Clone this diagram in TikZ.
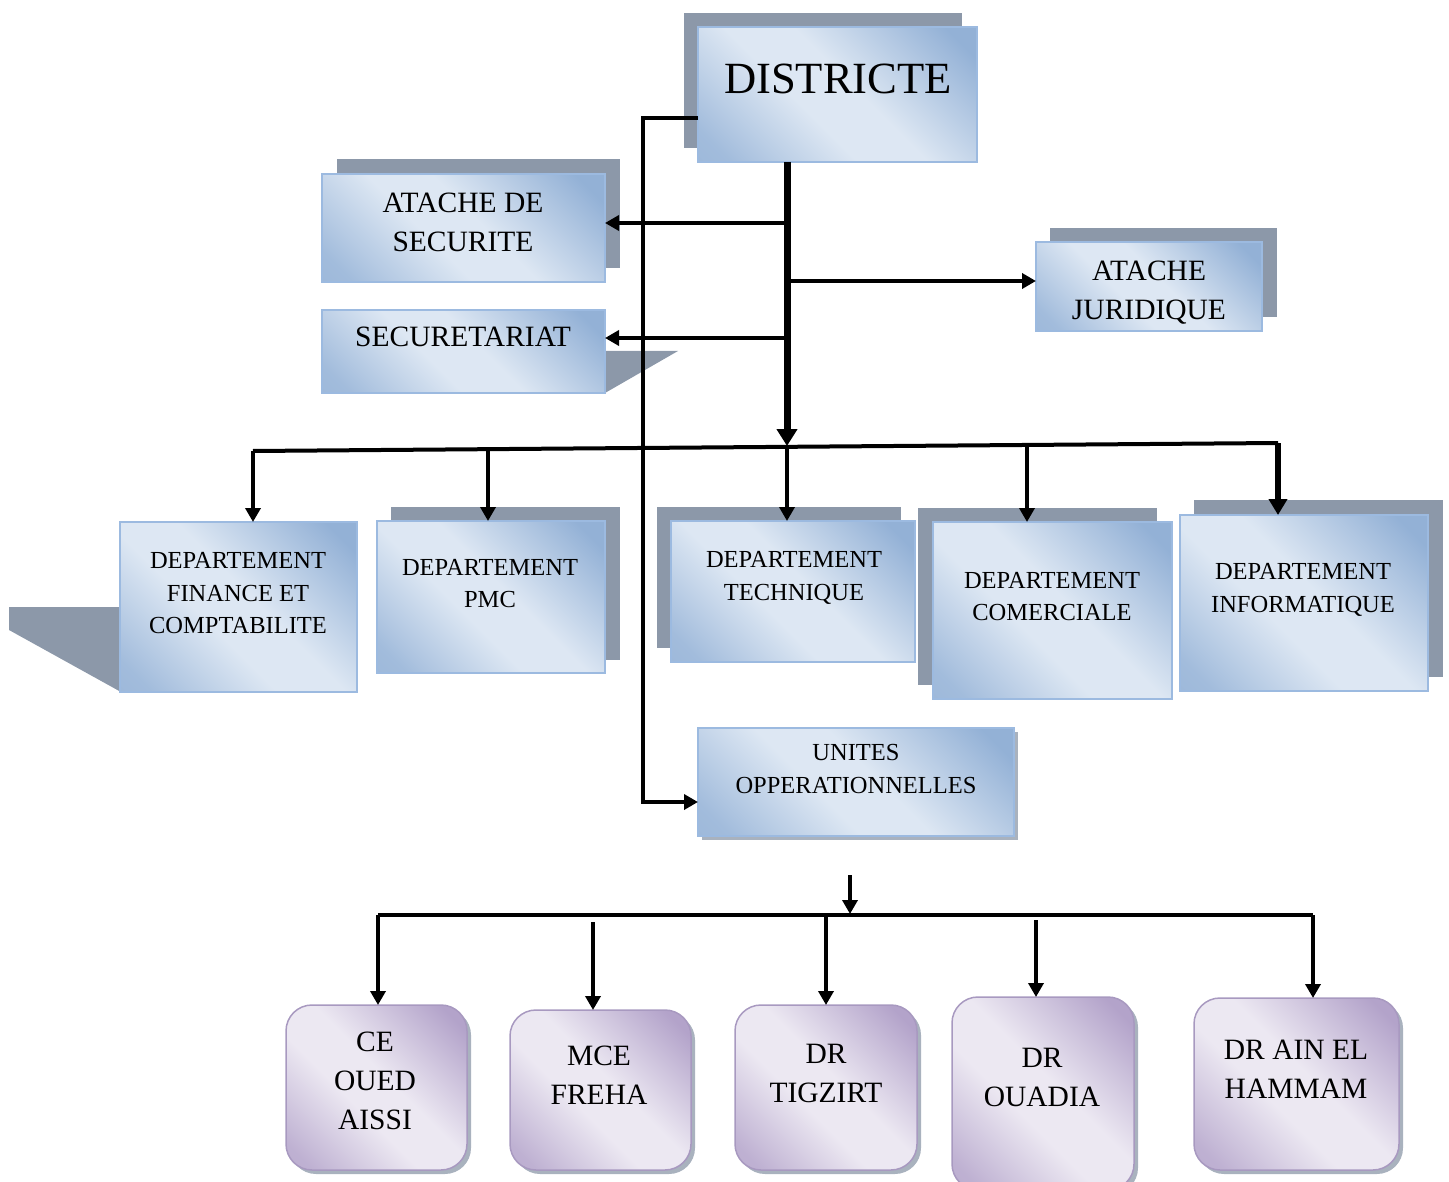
\documentclass[tikz,border=0pt]{standalone}
\usepackage{fontspec}
\setmainfont{Liberation Serif}
\usetikzlibrary{arrows.meta}
\definecolor{blight}{HTML}{DDE7F3}
\definecolor{bdark}{HTML}{93B1D6}
\definecolor{bedge}{HTML}{9CBAE0}
\definecolor{shgray}{HTML}{8C98A9}
\definecolor{plight}{HTML}{ECE8F2}
\definecolor{pdark}{HTML}{B3A3CA}
\definecolor{pedge}{HTML}{A899C0}
\pgfdeclarehorizontalshading{bluegrad}{100bp}{color(0bp)=(bdark); color(20bp)=(bdark!80!blight); color(42bp)=(blight); color(54bp)=(blight); color(80bp)=(bdark); color(100bp)=(bdark)}
\pgfdeclarehorizontalshading{purplegrad}{100bp}{color(0bp)=(pdark); color(20bp)=(pdark!80!plight); color(42bp)=(plight); color(54bp)=(plight); color(80bp)=(pdark); color(100bp)=(pdark)}
\newcommand\BoxAt[6]{\node[#1, minimum width={(#5)-(#3)}, minimum height={(#6)-(#4)}] (#2) at ({((#3)+(#5))/2},{((#4)+(#6))/2}) {};}
\newcommand\PShadow[4]{\fill[shgray!75, rounded corners=26pt] ({(#1)+4},{(#2)+4}) rectangle ({(#3)+4},{(#4)+4});}
\begin{document}
\begin{tikzpicture}[x=1pt,y=-1pt,
  bluebox/.style={draw=bedge, line width=1.5pt, shading=bluegrad, shading angle=45, inner sep=0pt, outer sep=0pt},
  purplebox/.style={draw=pedge, line width=1.5pt, shading=purplegrad, shading angle=45, rounded corners=26pt, inner sep=0pt, outer sep=0pt},
  lbl/.style={align=center, inner sep=0pt, text=black},
  big/.style={lbl, font=\fontsize{44.6}{50}\selectfont},
  mid/.style={lbl, font=\fontsize{29.5}{39}\selectfont},
  sml/.style={lbl, font=\fontsize{24.5}{32.5}\selectfont},
  conn/.style={line width=4pt},
  arr/.style={conn, -{Triangle[width=15pt,length=14pt]}}]
\useasboundingbox (0,0) rectangle (1449,1182);
% shadows
\fill[shgray] (684,13) rectangle (962,148);
\fill[shgray] (337,159) rectangle (620,268);
\fill[shgray] (605,351) -- (678,351) -- (605,393) -- cycle;
\fill[shgray] (1050,228) rectangle (1277,317);
\fill[shgray] (9,607) -- (121,607) -- (121,692) -- (9,630) -- cycle;
\fill[shgray] (391,507) rectangle (620,660);
\fill[shgray] (657,507) rectangle (901,648);
\fill[shgray] (918,508) rectangle (1157,685);
\fill[shgray] (1194,500) rectangle (1443,677);
\fill[shgray!75] (702,732) rectangle (1018,840);
\PShadow{286}{1005}{467}{1170}
\PShadow{510}{1010}{691}{1170}
\PShadow{735}{1005}{917}{1170}
\PShadow{952}{997}{1134}{1190}
\PShadow{1194}{998}{1399}{1170}
% boxes
\BoxAt{bluebox}{dist}{698}{27}{977}{162}
\BoxAt{bluebox}{secu}{322}{174}{605}{282}
\BoxAt{bluebox}{secr}{322}{310}{605}{393}
\BoxAt{bluebox}{juri}{1036}{242}{1262}{331}
\BoxAt{bluebox}{fin}{120}{522}{357}{692}
\BoxAt{bluebox}{pmc}{377}{521}{605}{673}
\BoxAt{bluebox}{tech}{671}{521}{915}{662}
\BoxAt{bluebox}{com}{933}{522}{1172}{699}
\BoxAt{bluebox}{info}{1180}{515}{1428}{691}
\BoxAt{bluebox}{unit}{698}{728}{1014}{836}
\BoxAt{purplebox}{ce}{286}{1005}{467}{1170}
\BoxAt{purplebox}{mce}{510}{1010}{691}{1170}
\BoxAt{purplebox}{tig}{735}{1005}{917}{1170}
\BoxAt{purplebox}{oua}{952}{997}{1134}{1190}
\BoxAt{purplebox}{ain}{1194}{998}{1399}{1170}
% labels
\node[big] (tdist) at (838,79) {DISTRICTE};
\node[mid] (tsecu) at (463,222.5) {ATACHE DE\\SECURITE};
\node[mid] (tsecr) at (463,337) {SECURETARIAT};
\node[mid] (tjuri) at (1149,292.5) {ATACHE\\JURIDIQUE};
\node[sml] (tfin) at (238,593.5) {DEPARTEMENT\\FINANCE ET\\COMPTABILITE};
\node[sml] (tpmc) at (490,583.5) {DEPARTEMENT\\PMC};
\node[sml] (ttech) at (794,578) {DEPARTEMENT\\TECHNIQUE};
\node[sml] (tcom) at (1052,596.5) {DEPARTEMENT\\COMERCIALE};
\node[sml] (tinfo) at (1303,590) {DEPARTEMENT\\INFORMATIQUE};
\node[sml] (tunit) at (856,769) {UNITES\\OPPERATIONNELLES};
\node[mid] (tce) at (375,1081) {CE\\OUED\\AISSI};
\node[mid] (tmce) at (599,1075.5) {MCE\\FREHA};
\node[mid] (ttig) at (826,1073.5) {DR\\TIGZIRT};
\node[mid] (toua) at (1042,1077) {DR\\OUADIA};
\node[mid] (tain) at (1296,1069.5) {DR AIN EL\\HAMMAM};
% connectors
\coordinate (t1) at (787,223);
\coordinate (t2) at (787,281);
\coordinate (t3) at (785,338);
\coordinate (tb) at (787,446);
\draw[line width=7pt, -{Triangle[width=20pt,length=17pt]}] (dist.south -| t1) -- (tb);
\draw[arr] (t1) -- (secu.east |- t1);
\draw[arr] (t2) -- (juri.west |- t2);
\draw[arr] (t3) -- (secr.east |- t3);
\coordinate (l1) at (643,118);
\coordinate (l2) at (643,802);
\draw[arr] (dist.west |- l1) -- (l1) -- (l2) -- (unit.west |- l2);
\coordinate (bL) at (253,451);
\coordinate (bR) at (1278,443);
\coordinate (b2) at (488,449);
\coordinate (b3) at (787,447);
\coordinate (b4) at (1027,445);
\draw[conn] (bL) -- (bR);
\draw[arr] (bL) -- (fin.north -| bL);
\draw[arr] (b2) -- (pmc.north -| b2);
\draw[arr] (b3) -- (tech.north -| b3);
\draw[arr] (b4) -- (com.north -| b4);
\draw[line width=6pt, -{Triangle[width=18pt,length=16pt]}] (bR) -- (info.north -| bR);
\coordinate (u1) at (850,875);
\coordinate (u2) at (850,914);
\draw[arr] (u1) -- (u2);
\coordinate (cL) at (378,915);
\coordinate (cR) at (1313,915);
\coordinate (c2) at (593,922);
\coordinate (c3) at (826,915);
\coordinate (c4) at (1036,920);
\draw[conn] (cL) -- (cR);
\draw[arr] (cL) -- (ce.north -| cL);
\draw[arr] (c2) -- (mce.north -| c2);
\draw[arr] (c3) -- (tig.north -| c3);
\draw[arr] (c4) -- (oua.north -| c4);
\draw[arr] (cR) -- (ain.north -| cR);
\end{tikzpicture}
\end{document}
